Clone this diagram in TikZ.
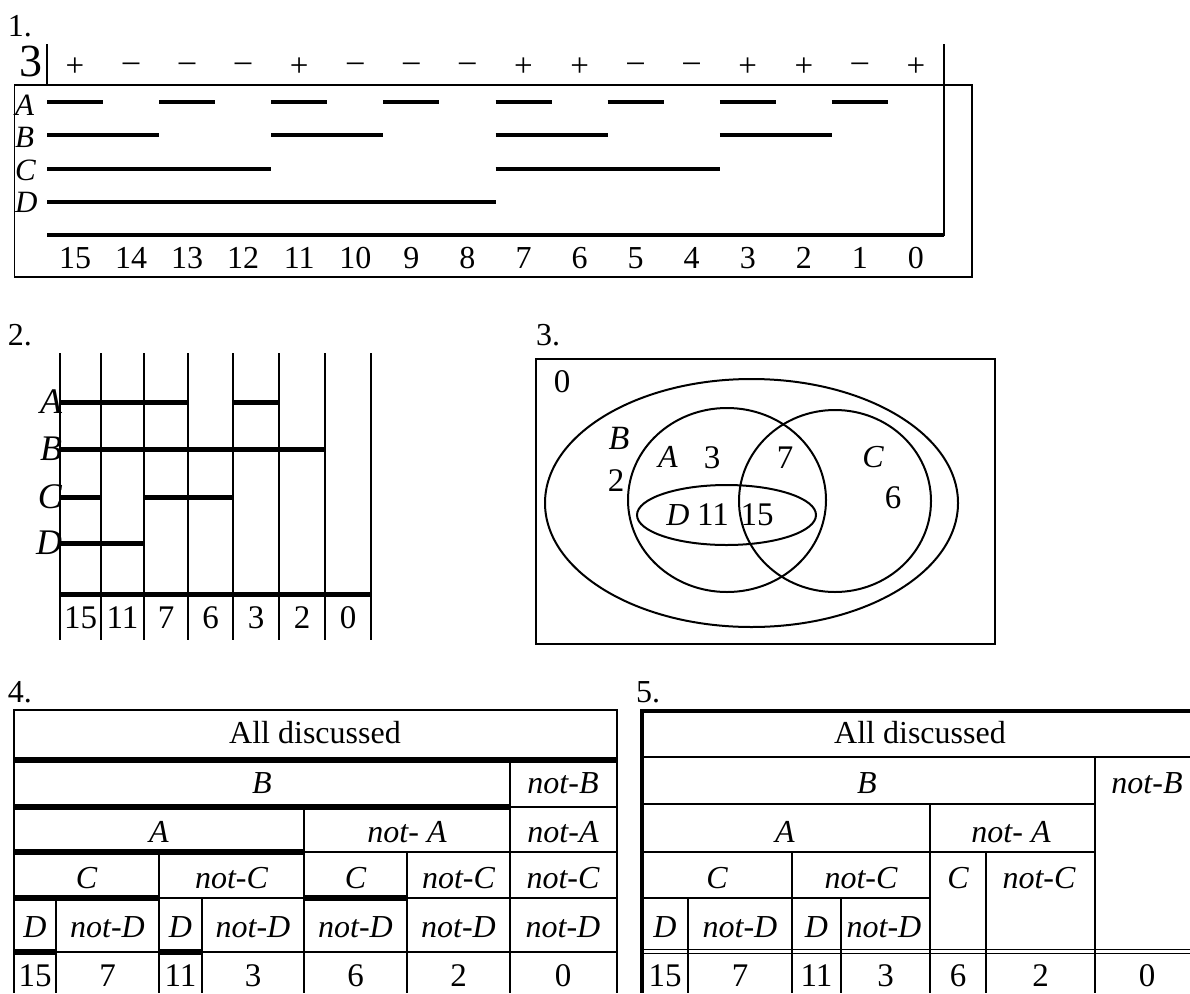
\documentclass[tikz,border=0pt]{standalone}
\usepackage{fontspec}
\setmainfont{Liberation Serif}
\begin{document}
\begin{tikzpicture}[x=1pt,y=-1pt,
  txt/.style={inner sep=0pt,outer sep=0pt,font=\fontsize{32}{32}\selectfont},
  ittxt/.style={inner sep=0pt,outer sep=0pt,font=\fontsize{32}{32}\selectfont\itshape},
  sgn/.style={inner sep=0pt,font=\fontsize{33}{33}\selectfont},
  bar/.style={line width=4.5pt},
  barb/.style={line width=5pt},
  frame/.style={line width=1.3pt},
  grid2/.style={line width=2.4pt},
  venn/.style={line width=2pt},
  tl/.style={line width=2pt},
  tk/.style={line width=6pt},
  tb/.style={line width=4pt}]
\useasboundingbox (0,0) rectangle (1190,993);

% ================= 1 =================
\node[txt,anchor=base west] (n1) at (8,36) {1.};
\node[inner sep=0pt,font=\fontsize{46}{46}\selectfont] (three) at (31,61) {3};
\draw[frame] (14.5,85) rectangle (972,277);
\coordinate (t0) at (47,44); \coordinate (t1) at (47,85);
\draw[frame] (t0) -- (t1);
\coordinate (r0) at (944,44); \coordinate (r1) at (944,236);
\draw[frame] (r0) -- (r1);
\foreach \s [count=\i from 0] in {+,–,–,–,+,–,–,–,+,+,–,–,+,+,–,+}
  \node[sgn] (s\i) at ({47+56.0625*\i+28},67) {\s};
\foreach \n [count=\i from 0] in {15,14,...,0}
  \node[txt] (c\i) at ({47+56.0625*\i+28},258) {\n};
\foreach \l/\y in {A/115,B/147,C/180,D/212}
  \node[ittxt,font=\fontsize{31}{31}\selectfont\itshape,anchor=base west] (L\l) at (15,\y) {\l};
% bars
\foreach \a in {0,2,...,14}
  \draw[bar] ({47+56.0625*\a},102) -- ({47+56.0625*(\a+1)},102);
\foreach \a in {0,4,8,12}
  \draw[bar] ({47+56.0625*\a},135) -- ({47+56.0625*(\a+2)},135);
\foreach \a in {0,8}
  \draw[bar] ({47+56.0625*\a},169) -- ({47+56.0625*(\a+4)},169);
\draw[bar] (47,202) -- (496,202);
\draw[bar] (47,235) -- (944,235);

% ================= 2 =================
\node[txt,anchor=base west] (n2) at (8,345) {2.};
\foreach \x in {60,101,144,188,233,279,325,371}
  \draw[grid2] (\x,353) -- (\x,640);
\draw[barb] (60,402) -- (188,402);
\draw[barb] (233,402) -- (279,402);
\draw[barb] (60,449) -- (325,449);
\draw[barb] (60,497) -- (101,497);
\draw[barb] (144,497) -- (233,497);
\draw[barb] (60,543) -- (144,543);
\draw[barb] (60,594) -- (371,594);
\foreach \l/\y in {A/402,B/449,C/497,D/543}
  \node[ittxt,font=\fontsize{36}{36}\selectfont\itshape,anchor=base east] (M\l) at (62,\y+11) {\l};
\foreach \n/\x in {15/80.5,11/122.5,7/166,6/210.5,3/256,2/302,0/348}
  \node[txt,font=\fontsize{33}{33}\selectfont] (m\n) at (\x,618) {\n};

% ================= 3 =================
\node[txt,anchor=base west] (n3) at (536,345) {3.};
\draw[venn] (536,359) rectangle (995,644);
\draw[venn] (751.5,503) ellipse [x radius=206.5, y radius=124];
\draw[venn] (727,500) ellipse [x radius=99, y radius=92];
\draw[venn] (835,501) ellipse [x radius=96, y radius=91];
\draw[venn] (726.5,515) ellipse [x radius=89.5, y radius=30];
\begin{scope}[every node/.style={inner sep=0pt,font=\fontsize{33}{33}\selectfont}]
\node (v0) at (562,382) {0};
\node[font=\fontsize{34}{34}\selectfont\itshape] (vB) at (619,438) {B};
\node (v2) at (616,481) {2};
\node[font=\fontsize{32}{32}\selectfont\itshape] (vA) at (668,457) {A};
\node (v3) at (712,458) {3};
\node (v7) at (785,458) {7};
\node[font=\fontsize{32}{32}\selectfont\itshape] (vC) at (873,457) {C};
\node (v6) at (893,498) {6};
\node[font=\fontsize{32}{32}\selectfont\itshape] (vD) at (678,515) {D};
\node (v11) at (713,515) {11};
\node (v15) at (757,515) {15};
\end{scope}

% ================= 4 =================
\node[txt,anchor=base west] (n4) at (8,702) {4.};
% horizontal
\draw[tl] (14,710) -- (617,710);
\draw[tk] (14,760) -- (617,760);
\draw[tk] (14,807) -- (510,807);
\draw[tl] (510,807) -- (617,807);
\draw[tk] (14,852) -- (304,852);
\draw[tl] (304,852) -- (617,852);
\draw[tk] (14,898) -- (159,898);
\draw[tl] (159,898) -- (305,898);
\draw[tk] (305,898) -- (407,898);
\draw[tl] (407,898) -- (617,898);
\draw[tk] (14,952) -- (56,952);
\draw[tl] (56,952) -- (159,952);
\draw[tk] (159,952) -- (202,952);
\draw[tl] (202,952) -- (617,952);
% vertical
\draw[tl] (14,709) -- (14,993);
\draw[line width=2.5pt] (617,709) -- (617,993);
\draw[tl] (510,760) -- (510,993);
\draw[tl] (304,807) -- (304,993);
\draw[tl] (159,852) -- (159,993);
\draw[tl] (407,852) -- (407,993);
\draw[tl] (56,898) -- (56,993);
\draw[tl] (202,898) -- (202,993);
% text
\node[txt,anchor=base] (p1) at (315,743) {All discussed};
\node[ittxt,anchor=base] (p2a) at (262,793) {B};
\node[ittxt,anchor=base] (p2b) at (563,793) {not-B};
\node[ittxt,anchor=base] (p3a) at (159,842) {A};
\node[ittxt,anchor=base] (p3b) at (407,842) {not- A};
\node[ittxt,anchor=base] (p3c) at (563,842) {not-A};
\node[ittxt,anchor=base] (p4a) at (86.5,888) {C};
\node[ittxt,anchor=base] (p4b) at (231.5,888) {not-C};
\node[ittxt,anchor=base] (p4c) at (355.5,888) {C};
\node[ittxt,anchor=base] (p4d) at (458.5,888) {not-C};
\node[ittxt,anchor=base] (p4e) at (563,888) {not-C};
\foreach \t/\x [count=\i] in {D/35,not-D/107.5,D/180.5,not-D/253,not-D/355.5,not-D/458.5,not-D/563}
  \node[ittxt,anchor=base] (p5\i) at (\x,937) {\t};
\foreach \t/\x [count=\i] in {15/35,7/107.5,11/180.5,3/253,6/355.5,2/458.5,0/563}
  \node[txt,font=\fontsize{33}{33}\selectfont,anchor=base] (p6\i) at (\x,986) {\t};

% ================= 5 =================
\node[txt,anchor=base west] (n5) at (636,702) {5.};
\draw[tb] (640,711) -- (1199,711);
\draw[tl] (642,757) -- (1199,757);
\draw[tl] (642,804) -- (1095,804);
\draw[tl] (642,852) -- (1095,852);
\draw[tl] (642,898) -- (930,898);
\draw[line width=1.5pt] (642,949.5) -- (1199,949.5);
\draw[line width=1.5pt] (642,953.5) -- (1199,953.5);
\draw[tb] (642,709) -- (642,993);
\draw[tl] (1095,757) -- (1095,993);
\draw[tl] (930,804) -- (930,993);
\draw[tl] (792,852) -- (792,993);
\draw[tl] (986,852) -- (986,993);
\draw[tl] (688,898) -- (688,993);
\draw[tl] (841,898) -- (841,993);
\node[txt,anchor=base] (q1) at (920,743) {All discussed};
\node[ittxt,anchor=base] (q2a) at (867,793) {B};
\node[ittxt,anchor=base] (q2b) at (1147,793) {not-B};
\node[ittxt,anchor=base] (q3a) at (785,842) {A};
\node[ittxt,anchor=base] (q3b) at (1011,842) {not- A};
\node[ittxt,anchor=base] (q4a) at (717,888) {C};
\node[ittxt,anchor=base] (q4b) at (861,888) {not-C};
\node[ittxt,anchor=base] (q4c) at (958,888) {C};
\node[ittxt,anchor=base] (q4d) at (1039,888) {not-C};
\foreach \t/\x [count=\i] in {D/665,not-D/740,D/816.5,not-D/884}
  \node[ittxt,anchor=base] (q5\i) at (\x,937) {\t};
\foreach \t/\x [count=\i] in {15/665,7/740,11/816.5,3/885.5,6/958,2/1040.5,0/1147}
  \node[txt,font=\fontsize{33}{33}\selectfont,anchor=base] (q6\i) at (\x,986) {\t};
\end{tikzpicture}
\end{document}
